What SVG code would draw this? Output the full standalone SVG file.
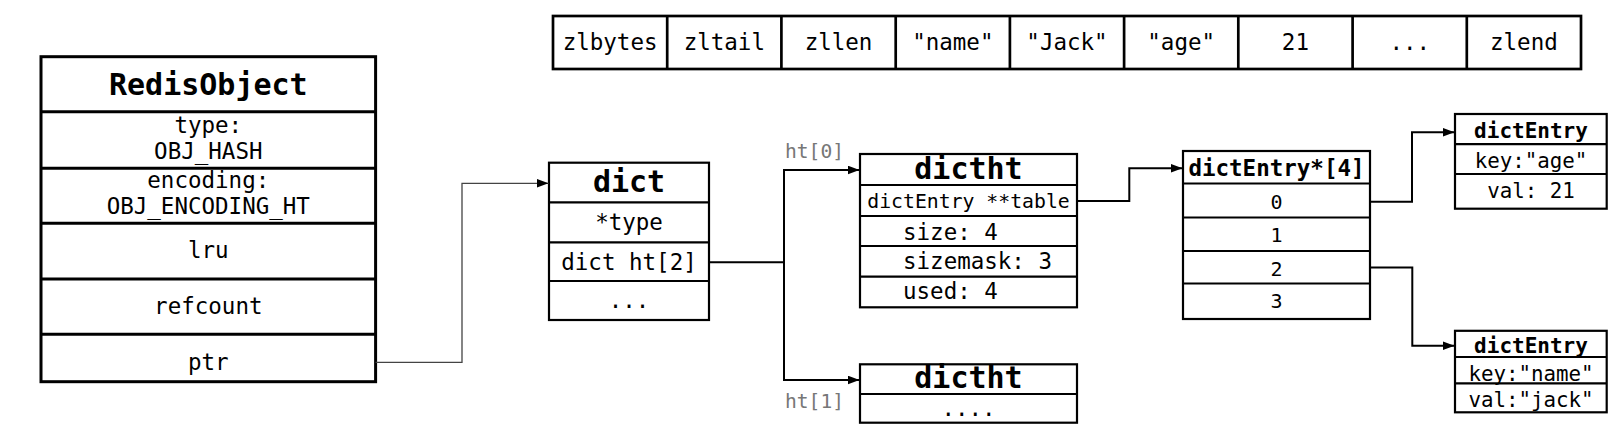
<svg xmlns="http://www.w3.org/2000/svg" width="1618" height="429" viewBox="0 0 1618 429">
<style>
text{font-family:"DejaVu Sans Mono","Liberation Mono",monospace;fill:#000;text-anchor:middle}
.t{font-size:30px;font-weight:bold}
.b{font-size:22.5px}
.sm{font-size:19.8px}
.kv{font-size:20.8px}
.et{font-size:21px;font-weight:bold}
.arr{font-size:22.5px;font-weight:bold}
.num{font-size:20px}
.lbl{font-size:19.6px;fill:#777;text-anchor:start}
.l{text-anchor:start}
.box{fill:#fff;stroke:#000;stroke-width:2.2}
.thick{fill:#fff;stroke:#000;stroke-width:3}
.sep{stroke:#000;stroke-width:2.2}
.sep3{stroke:#000;stroke-width:3}
.c{fill:none;stroke:#000;stroke-width:2}
.cp{fill:none;stroke:#444;stroke-width:1.3}
</style>
<defs>
<marker id="ah" markerUnits="userSpaceOnUse" markerWidth="12" markerHeight="10" refX="12" refY="4.5" orient="auto">
<path d="M0,0 L12,4.5 L0,9 z" fill="#000"/>
</marker>
</defs>

<g id="redisobject">
<rect class="thick" x="41" y="56.7" width="334.6" height="325"/>
<line class="sep3" x1="41" y1="111.7" x2="375.6" y2="111.7"/>
<line class="sep3" x1="41" y1="168.3" x2="375.6" y2="168.3"/>
<line class="sep3" x1="41" y1="223.3" x2="375.6" y2="223.3"/>
<line class="sep3" x1="41" y1="279" x2="375.6" y2="279"/>
<line class="sep3" x1="41" y1="334.3" x2="375.6" y2="334.3"/>
<text class="t" x="208.3" y="95">RedisObject</text>
<text class="b" x="208.3" y="133">type:</text>
<text class="b" x="208.3" y="158.5">OBJ_HASH</text>
<text class="b" x="208.3" y="188">encoding:</text>
<text class="b" x="208.3" y="213.5">OBJ_ENCODING_HT</text>
<text class="b" x="208.3" y="258.3">lru</text>
<text class="b" x="208.3" y="314.3">refcount</text>
<text class="b" x="208.3" y="370">ptr</text>
</g>

<g id="ziplist">
<rect class="thick" x="553" y="16" width="1028" height="53" style="stroke-width:2.7"/>
<g style="stroke:#000;stroke-width:2.7">
<line x1="667.2" y1="16" x2="667.2" y2="69"/>
<line x1="781.4" y1="16" x2="781.4" y2="69"/>
<line x1="895.7" y1="16" x2="895.7" y2="69"/>
<line x1="1009.9" y1="16" x2="1009.9" y2="69"/>
<line x1="1124.1" y1="16" x2="1124.1" y2="69"/>
<line x1="1238.3" y1="16" x2="1238.3" y2="69"/>
<line x1="1352.6" y1="16" x2="1352.6" y2="69"/>
<line x1="1466.8" y1="16" x2="1466.8" y2="69"/>
</g>
<text class="b" x="610.1" y="49.5">zlbytes</text>
<text class="b" x="724.3" y="49.5">zltail</text>
<text class="b" x="838.5" y="49.5">zllen</text>
<text class="b" x="952.8" y="49.5">"name"</text>
<text class="b" x="1067" y="49.5">"Jack"</text>
<text class="b" x="1181.2" y="49.5">"age"</text>
<text class="b" x="1295.4" y="49.5">21</text>
<text class="b" x="1409.7" y="49.5">...</text>
<text class="b" x="1523.9" y="49.5">zlend</text>
</g>

<g id="dict">
<rect class="box" x="549" y="162.7" width="160" height="157.3"/>
<line class="sep" x1="549" y1="202.3" x2="709" y2="202.3"/>
<line class="sep" x1="549" y1="242.3" x2="709" y2="242.3"/>
<line class="sep" x1="549" y1="281" x2="709" y2="281"/>
<text class="t" x="629" y="192">dict</text>
<text class="b" x="629" y="230">*type</text>
<text class="b" x="629" y="270">dict ht[2]</text>
<text class="b" x="629" y="308">...</text>
</g>

<g id="dictht0">
<rect class="box" x="860" y="154" width="217" height="153.3"/>
<line class="sep" x1="860" y1="185" x2="1077" y2="185"/>
<line class="sep" x1="860" y1="216" x2="1077" y2="216"/>
<line class="sep" x1="860" y1="246" x2="1077" y2="246"/>
<line class="sep" x1="860" y1="276.7" x2="1077" y2="276.7"/>
<text class="t" x="968.5" y="179">dictht</text>
<text class="sm" x="968.5" y="208">dictEntry **table</text>
<text class="b l" x="903" y="240">size: 4</text>
<text class="b l" x="903" y="269">sizemask: 3</text>
<text class="b l" x="903" y="299">used: 4</text>
</g>

<g id="dictht1">
<rect class="box" x="860" y="364.3" width="217" height="58.4"/>
<line class="sep" x1="860" y1="394" x2="1077" y2="394"/>
<text class="t" x="968.5" y="388">dictht</text>
<text class="b" x="968.5" y="416">....</text>
</g>

<g id="table">
<rect class="box" x="1183" y="151" width="187" height="168"/>
<line class="sep" x1="1183" y1="183.5" x2="1370" y2="183.5"/>
<line class="sep" x1="1183" y1="217.5" x2="1370" y2="217.5"/>
<line class="sep" x1="1183" y1="251" x2="1370" y2="251"/>
<line class="sep" x1="1183" y1="283.5" x2="1370" y2="283.5"/>
<text class="arr" x="1276.5" y="176">dictEntry*[4]</text>
<text class="num" x="1276.5" y="208.5">0</text>
<text class="num" x="1276.5" y="241.7">1</text>
<text class="num" x="1276.5" y="275.5">2</text>
<text class="num" x="1276.5" y="308.3">3</text>
</g>

<g id="entry-age">
<rect class="box" x="1455" y="114" width="151.7" height="94.7"/>
<line class="sep" x1="1455" y1="144.2" x2="1606.7" y2="144.2"/>
<line class="sep" x1="1455" y1="174" x2="1606.7" y2="174"/>
<text class="et" x="1531" y="138.3">dictEntry</text>
<text class="kv" x="1531" y="168">key:"age"</text>
<text class="kv" x="1531" y="198.3">val: 21</text>
</g>

<g id="entry-name">
<rect class="box" x="1455" y="330.8" width="151.7" height="81.5"/>
<line class="sep" x1="1455" y1="357" x2="1606.7" y2="357"/>
<line class="sep" x1="1455" y1="383.3" x2="1606.7" y2="383.3"/>
<text class="et" x="1531" y="353.3">dictEntry</text>
<text class="kv" x="1531" y="380.5">key:"name"</text>
<text class="kv" x="1531" y="406.5">val:"jack"</text>
</g>

<g id="labels">
<text class="lbl" x="785" y="158">ht[0]</text>
<text class="lbl" x="785" y="408">ht[1]</text>
</g>

<g id="connectors">
<path class="cp" d="M375.6,362.3 H462 V183.3 H548.5" marker-end="url(#ah)"/>
<path class="c" d="M709,262.3 H784 V170 H859.5" marker-end="url(#ah)"/>
<path class="c" d="M784,262.3 V380 H859.5" marker-end="url(#ah)"/>
<path class="c" d="M1077,201 H1129.3 V168.3 H1182.5" marker-end="url(#ah)"/>
<path class="c" d="M1370,201.7 H1412 V132.3 H1454.5" marker-end="url(#ah)"/>
<path class="c" d="M1370,267.5 H1412.3 V345.7 H1454.5" marker-end="url(#ah)"/>
</g>
</svg>
